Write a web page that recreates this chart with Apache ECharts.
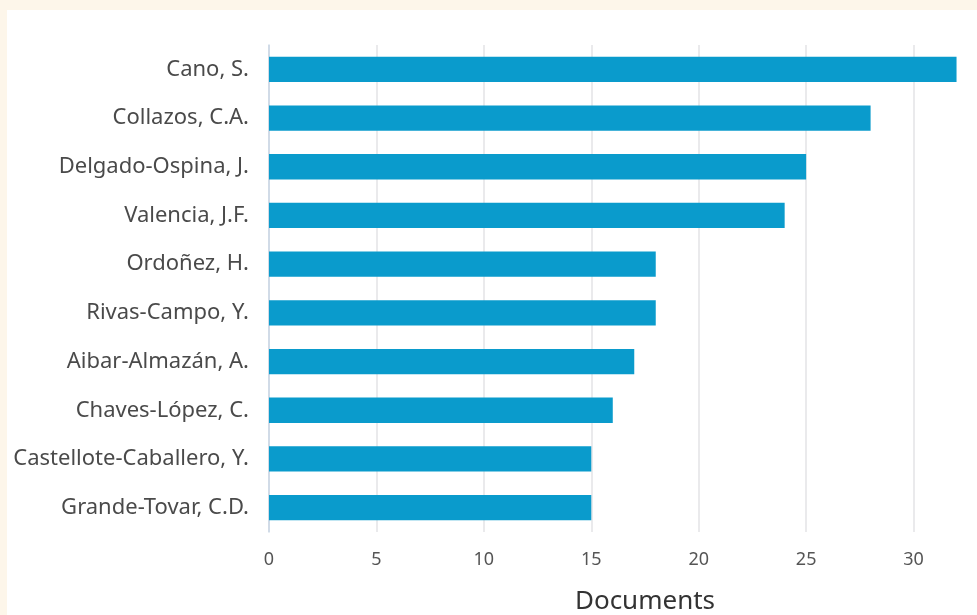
<!DOCTYPE html>
<html>
<head>
<meta charset="utf-8">
<script src="https://cdn.jsdelivr.net/npm/echarts@6/dist/echarts.min.js"></script>
<style>
html,body{margin:0;padding:0;width:977px;height:615px;background:#fdf6ea;overflow:hidden;}
#c{position:absolute;left:7px;top:10px;width:1060px;height:605px;background:#ffffff;}
</style>
</head>
<body>
<div id="c"></div>
<script>
const authors = ["Cano, S.","Collazos, C.A.","Delgado-Ospina, J.","Valencia, J.F.","Ordoñez, H.","Rivas-Campo, Y.","Aibar-Almazán, A.","Chaves-López, C.","Castellote-Caballero, Y.","Grande-Tovar, C.D."];
const documents = [32,28,25,24,18,18,17,16,15,15];
const xTicks = [0,5,10,15,20,25,30];

const chart = echarts.init(document.getElementById('c'));
chart.setOption({
  animation:false,
  grid:{left:262,right:46,top:35,bottom:83,outerBoundsMode:'none',containLabel:false},
  xAxis:{
    type:'value',min:0,max:35,interval:5,
    name:'Documents',nameLocation:'middle',nameGap:57,
    nameTextStyle:{fontFamily:'Noto Sans',fontSize:26,color:'#333'},
    axisLine:{show:false},
    axisTick:{show:false},
    axisLabel:{fontFamily:'Noto Sans',fontSize:18,color:'#555',margin:19,
      formatter:v=>xTicks.indexOf(v)>=0?String(v):''},
    splitLine:{show:true,lineStyle:{color:'#e3e3e6',width:1.5}}
  },
  yAxis:{
    type:'category',data:authors,inverse:true,
    axisLine:{show:true,lineStyle:{color:'#c9d6e6',width:1.5}},
    axisTick:{show:false},
    axisLabel:{fontFamily:'Noto Sans',fontSize:22,color:'#4a4a4a',margin:20}
  },
  series:[{type:'bar',data:documents,barWidth:'52%',itemStyle:{color:'#0a9bcc'}}]
});
</script>
</body>
</html>
